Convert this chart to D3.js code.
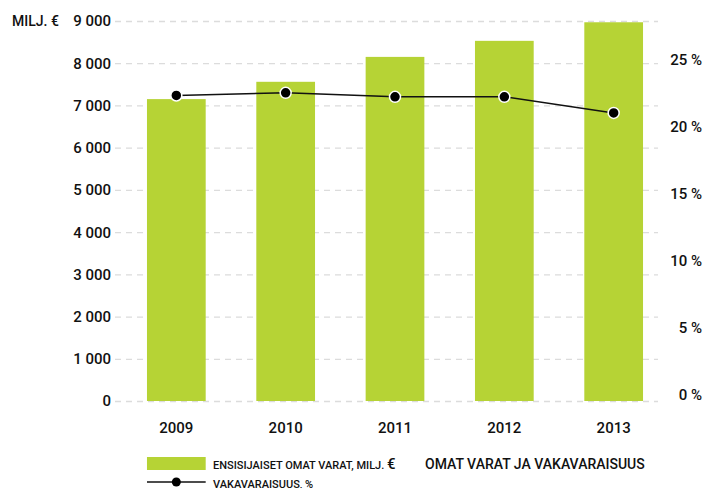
<!DOCTYPE html>
<html>
<head>
<meta charset="utf-8">
<script src="https://cdn.jsdelivr.net/npm/d3@7"></script>
<style>
  body { margin: 0; background: #fff; }
  text { font-family: Roboto, "Noto Sans", sans-serif; fill: #111; font-weight: 500; }
</style>
</head>
<body>
<div id="chart"></div>
<script>
// data
var years = ["2009", "2010", "2011", "2012", "2013"];
var omatVarat = [7150, 7560, 8150, 8530, 8970];      // milj. €
var vakavaraisuus = [22.8, 23.0, 22.7, 22.7, 21.5];  // %
var leftTicks = [0, 1000, 2000, 3000, 4000, 5000, 6000, 7000, 8000, 9000];
var rightTicks = [0, 5, 10, 15, 20, 25];

var svgWidth = 718, svgHeight = 488;
var plot = {left: 115, right: 658, top: 21, bottom: 401};

var svg = d3.select("#chart")
  .append("svg")
    .attr("width", svgWidth)
    .attr("height", svgHeight);

var x = d3.scaleBand()
  .domain(years)
  .range([118, 672])
  .paddingInner(0.463)
  .paddingOuter(0.265);

var y = d3.scaleLinear()
  .domain([0, 9000])
  .range([plot.bottom, plot.top]);

// right axis: 5 % = 67 px
var y2 = d3.scaleLinear()
  .domain([0, 25])
  .range([plot.bottom, plot.bottom - 335]);

var fmt = function(d) { return d3.format(",")(d).replace(/,/g, " "); };

// gridlines
svg.append("g")
  .selectAll("line")
  .data(leftTicks)
  .join("line")
    .attr("x1", plot.left)
    .attr("x2", plot.right)
    .attr("y1", d => y(d) + 0.5)
    .attr("y2", d => y(d) + 0.5)
    .attr("stroke", "#dcdcdc")
    .attr("stroke-width", 1.3)
    .attr("stroke-dasharray", "6,5");

// bars
svg.append("g")
  .selectAll("rect")
  .data(years)
  .join("rect")
    .attr("x", d => x(d))
    .attr("width", x.bandwidth())
    .attr("y", (d, i) => y(omatVarat[i]))
    .attr("height", (d, i) => y(0) - y(omatVarat[i]))
    .attr("fill", "#b6d335");

// left labels
svg.append("g")
  .selectAll("text")
  .data(leftTicks)
  .join("text")
    .attr("x", 111)
    .attr("y", d => y(d))
    .attr("dy", "0.36em")
    .attr("text-anchor", "end")
    .style("font-size", "15px")
    .text(fmt);

svg.append("text")
  .attr("x", 12)
  .attr("y", y(9000))
  .attr("dy", "0.36em")
  .style("font-size", "14px")
  .text("MILJ. €");

// right labels
svg.append("g")
  .selectAll("text")
  .data(rightTicks)
  .join("text")
    .attr("x", 702)
    .attr("y", d => y2(d) - 6)
    .attr("dy", "0.36em")
    .attr("text-anchor", "end")
    .style("font-size", "15px")
    .text(d => d + " %");

// year labels
svg.append("g")
  .selectAll("text")
  .data(years)
  .join("text")
    .attr("x", d => x(d) + x.bandwidth() / 2)
    .attr("y", 428)
    .attr("dy", "0.36em")
    .attr("text-anchor", "middle")
    .style("font-size", "15px")
    .text(d => d);

// line
var line = d3.line()
  .x((d, i) => x(years[i]) + x.bandwidth() / 2)
  .y(d => y2(d));

svg.append("path")
  .datum(vakavaraisuus)
  .attr("fill", "none")
  .attr("stroke", "#111")
  .attr("stroke-width", 1.5)
  .attr("d", line);

svg.append("g")
  .selectAll("circle")
  .data(vakavaraisuus)
  .join("circle")
    .attr("cx", (d, i) => x(years[i]) + x.bandwidth() / 2)
    .attr("cy", d => y2(d))
    .attr("r", 5.5)
    .attr("fill", "#000")
    .attr("stroke", "#fff")
    .attr("stroke-width", 1.5);

// legend
var lx = x(years[0]);
svg.append("rect")
  .attr("x", lx)
  .attr("y", 457)
  .attr("width", x.bandwidth())
  .attr("height", 13)
  .attr("fill", "#b6d335");

svg.append("text")
  .attr("x", 213)
  .attr("y", 465)
  .attr("dy", "0.36em")
  .style("font-size", "11px")
  .text("ENSISIJAISET OMAT VARAT, MILJ. ")
  .append("tspan")
    .style("font-size", "15px")
    .text("€");

svg.append("line")
  .attr("x1", lx)
  .attr("x2", lx + x.bandwidth())
  .attr("y1", 482)
  .attr("y2", 482)
  .attr("stroke", "#111")
  .attr("stroke-width", 1.5);
svg.append("circle")
  .attr("cx", lx + x.bandwidth() / 2)
  .attr("cy", 482)
  .attr("r", 4.5)
  .attr("fill", "#000");

svg.append("text")
  .attr("x", 213)
  .attr("y", 484)
  .attr("dy", "0.36em")
  .style("font-size", "11px")
  .text("VAKAVARAISUUS, %");

svg.append("text")
  .attr("x", 425)
  .attr("y", 464)
  .attr("dy", "0.36em")
  .style("font-size", "14px")
  .text("OMAT VARAT JA VAKAVARAISUUS");
</script>
</body>
</html>
